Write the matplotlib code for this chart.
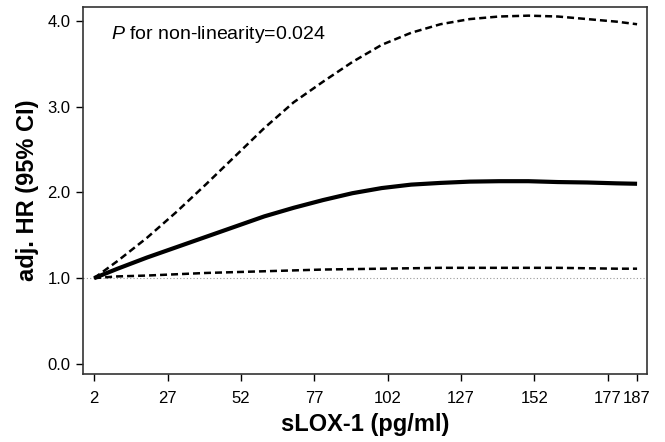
import numpy as np
import matplotlib
matplotlib.use('Agg')
import matplotlib.pyplot as plt

plt.rcParams['font.family'] = ['Liberation Sans', 'DejaVu Sans']
plt.rcParams['mathtext.fontset'] = 'custom'
plt.rcParams['mathtext.it'] = 'Liberation Sans:italic'
plt.rcParams['mathtext.rm'] = 'Liberation Sans'

# sLOX-1 concentration (pg/ml) and spline estimates
slox = [2, 10, 20, 30, 40, 50, 60, 70, 80, 90, 100, 110, 120, 130, 140, 150, 160, 170, 180, 187]
hr = [1.00, 1.11, 1.24, 1.36, 1.48, 1.60, 1.72, 1.82, 1.91, 1.99, 2.05, 2.09, 2.11, 2.125, 2.13,
      2.13, 2.12, 2.115, 2.105, 2.10]
ci_upper = [1.00, 1.20, 1.47, 1.77, 2.09, 2.42, 2.75, 3.05, 3.29, 3.52, 3.72, 3.86, 3.96, 4.02,
            4.05, 4.06, 4.05, 4.02, 3.99, 3.96]
ci_lower = [1.00, 1.02, 1.03, 1.045, 1.06, 1.07, 1.08, 1.09, 1.10, 1.105, 1.11, 1.115, 1.12, 1.12,
            1.12, 1.12, 1.12, 1.115, 1.11, 1.11]

xticks = [2, 27, 52, 77, 102, 127, 152, 177, 187]
yticks = [0.0, 1.0, 2.0, 3.0, 4.0]

fig = plt.figure(figsize=(6.65, 4.42), dpi=100)
ax = fig.add_axes([0.125, 0.154, 0.848, 0.83])

ax.axhline(1.0, color='#999999', lw=0.8, ls=(0, (1, 2)), zorder=1)
ax.plot(slox, ci_upper, color='black', lw=1.8, ls=(0, (2.8, 1.6)))
ax.plot(slox, ci_lower, color='black', lw=1.8, ls=(0, (2.8, 1.6)))
ax.plot(slox, hr, color='black', lw=3.0, solid_capstyle='butt')

ax.set_xlim(-1.75, 190.4)
ax.set_ylim(-0.117, 4.16)
ax.set_xticks(xticks)
ax.set_xticklabels([str(t) for t in xticks])
ax.set_yticks(yticks)
ax.set_yticklabels(['%.1f' % t for t in yticks])
ax.tick_params(axis='both', direction='out', length=5, width=1, labelsize=12, colors='black')
ax.tick_params(axis='x', pad=7)
ax.tick_params(axis='y', pad=4)
for s in ax.spines.values():
    s.set_color('#333333')
    s.set_linewidth(1.2)

ax.set_xlabel('sLOX-1 (pg/ml)', fontsize=17, fontweight='bold', labelpad=5)
ax.set_ylabel('adj. HR (95% CI)', fontsize=17, fontweight='bold', labelpad=6)

ax.text(0.05, 0.955, '$P$ for non-linearity=0.024', transform=ax.transAxes,
        fontsize=14, va='top', ha='left')

fig.savefig('out.png', dpi=100)
